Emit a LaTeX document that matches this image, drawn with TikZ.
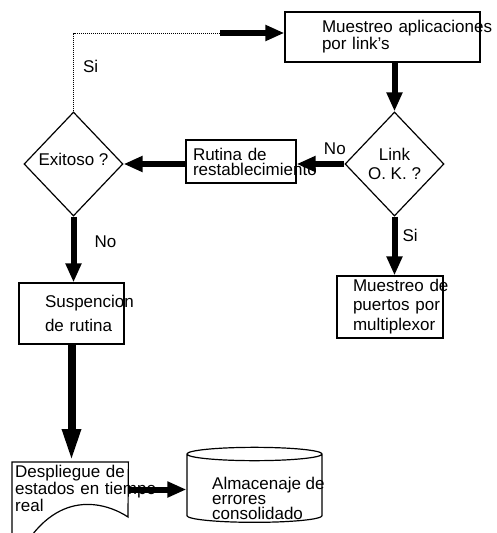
\documentclass[tikz,border=0pt]{standalone}
\usepackage{fontspec}
\setmainfont{Liberation Sans}
\usetikzlibrary{shapes.geometric,arrows.meta}
\hyphenpenalty=10000
\begin{document}
\begin{tikzpicture}[x=1pt, y=-1pt,
		font=\fontsize{17}{15}\selectfont,
		box/.style = {rectangle, draw, line width=1.2pt, align=left, inner ysep=3pt},
		decision/.style = {diamond, draw, line width=1.2pt, inner sep=0pt,
			minimum width=99pt, minimum height=104pt, align=center},
		flow/.style = {line width=6pt, -{Triangle[length=19pt,width=15pt]}},
		lbl/.style = {inner sep=1pt}]
	\useasboundingbox (0,0) rectangle (497,533);
	\node[box, text width=121pt, inner xsep=37pt, minimum height=50pt] (muestreo) at (382.5,37) {Muestreo~aplicaciones\\por link's};
	\node[decision] (linkok) at (394.5,164) {Link\\[4pt]O. K. ?};
	\node[box, text width=96pt, inner xsep=7pt, minimum height=43pt] (rutina) at (241,161.5) {Rutina de\\restablecimiento};
	\node[decision, text depth=10pt] (exitoso) at (73.5,164) {Exitoso ?};
	\node[box, text width=53pt, inner xsep=26pt, minimum height=61pt] (susp) at (71.5,313.5) {Suspencion\\[7pt]de~rutina};
	\node[box, text width=74pt, inner xsep=16pt, minimum height=62pt] (puertos) at (390,307) {Muestreo~de\\[3.5pt]puertos~por\\[3.5pt]multiplexor};
	\node[align=left, text width=110pt, inner xsep=3pt, inner ysep=3pt, anchor=north west] (desp) at (12,462) {Despliegue~de\\estados~en~tiempo\\real};
	\node[cylinder, shape border rotate=90, draw, line width=1.2pt, aspect=2,
		minimum width=135pt, minimum height=75pt] (alm) at (254.5,489.5) {};
	\node[align=left, inner sep=1pt, anchor=north west] (almtxt) at (211,476) {Almacenaje~de\\errores\\consolidado};
	\draw[line width=1.2pt] (12,545) -- (desp.north west) -- (desp.north east) -- (128,517)
		.. controls (110,505) and (60,485) .. (22,550);
	\coordinate (bend) at (220,33);
	\draw[line width=1pt, densely dotted] (exitoso.north) |- node[lbl, pos=0.285, right=8pt] {Si} (bend);
	\draw[flow] (bend) -- (bend -| muestreo.west);
	\draw[flow] (linkok.north |- muestreo.south) -- (linkok.north);
	\draw[flow] (linkok.west) -- node[lbl, pos=0.2, above=5pt] {No} (linkok.west -| rutina.east);
	\draw[flow] (rutina.west |- exitoso.east) -- (exitoso.east);
	\draw[flow] (exitoso.south) -- node[lbl, pos=0.38, right=17pt] {No} (exitoso.south |- susp.north);
	\draw[flow] (linkok.south) -- node[lbl, pos=0.32, right=4pt] {Si} (linkok.south |- puertos.north);
	\draw[flow, -{Triangle[length=33pt,width=17pt]}, line width=8pt] (susp.south) -- (susp.south |- desp.north);
	\draw[flow] (alm.west -| desp.east) -- (alm.west);
\end{tikzpicture}
\end{document}
